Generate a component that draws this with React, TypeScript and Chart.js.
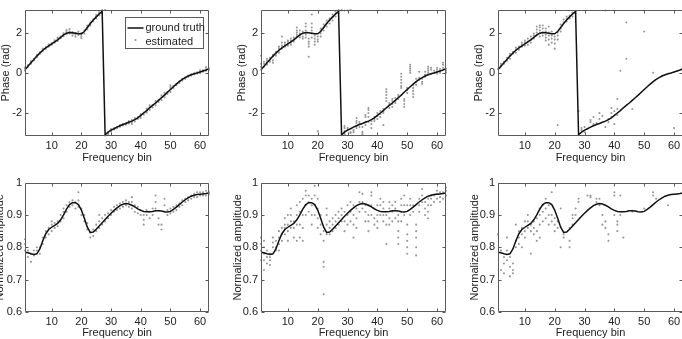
import React, { useEffect, useRef } from "react";
import { Chart, registerables } from "chart.js";

Chart.register(...registerables);

// ---- data -------------------------------------------------------------

const bins = [
  1, 2, 3, 4, 5, 6, 7, 8, 9, 10, 11, 12, 13, 14, 15, 16, 17, 18, 19, 20, 21,
  22, 23, 24, 25, 26, 27, 28, 29, 30, 31, 32, 33, 34, 35, 36, 37, 38, 39, 40,
  41, 42, 43, 44, 45, 46, 47, 48, 49, 50, 51, 52, 53, 54, 55, 56, 57, 58, 59,
  60, 61, 62, 63,
];

const binTicks = [10, 20, 30, 40, 50, 60];
const phaseTicks = [-2, 0, 2];
const ampTicks = [0.6, 0.7, 0.8, 0.9, 1];

// Reference phase response (wrapped to [-pi, pi])
const truePhase = [
  0.15, 0.33, 0.5, 0.66, 0.83, 0.98, 1.12, 1.24, 1.34, 1.44, 1.54, 1.64, 1.76,
  1.88, 1.97, 2.0, 1.99, 1.97, 1.94, 1.94, 2.05, 2.25, 2.45, 2.62, 2.78, 2.92,
  3.05, -3.08, -2.95, -2.85, -2.78, -2.7, -2.63, -2.57, -2.52, -2.46, -2.4,
  -2.33, -2.24, -2.12, -2.0, -1.88, -1.74, -1.62, -1.5, -1.37, -1.24, -1.11,
  -0.97, -0.83, -0.69, -0.56, -0.44, -0.33, -0.24, -0.16, -0.1, -0.05, -0.01,
  0.04, 0.09, 0.14, 0.2,
];

// Reference normalized amplitude response
const trueAmp = [
  0.785, 0.783, 0.78, 0.778, 0.78, 0.795, 0.82, 0.842, 0.855, 0.862, 0.868,
  0.874, 0.885, 0.9, 0.918, 0.932, 0.938, 0.938, 0.932, 0.915, 0.89, 0.862,
  0.846, 0.847, 0.856, 0.866, 0.876, 0.886, 0.896, 0.905, 0.914, 0.922, 0.929,
  0.933, 0.935, 0.934, 0.93, 0.925, 0.919, 0.914, 0.911, 0.91, 0.91, 0.911,
  0.913, 0.913, 0.912, 0.91, 0.909, 0.911, 0.917, 0.924, 0.932, 0.94, 0.947,
  0.953, 0.958, 0.961, 0.963, 0.964, 0.965, 0.966, 0.968,
];

// Estimates, one list per frequency bin (bin 1 first)
const estPhaseA: number[][] = [
  [0.12, 0.2, 0.26], [0.3, 0.38], [0.45, 0.52, 0.58], [0.62, 0.7],
  [0.78, 0.85, 0.9], [0.95, 1.02], [1.08, 1.15, 1.2], [1.2, 1.28],
  [1.3, 1.38, 1.42], [1.4, 1.48], [1.5, 1.56, 1.62], [1.58, 1.68, 1.75],
  [1.72, 1.8], [1.82, 1.9, 1.96], [1.92, 2.02, 2.12], [1.95, 2.05, 2.18],
  [1.85, 1.95, 2.02], [1.8, 1.9, 1.98], [1.88, 1.96, 2.05],
  [1.72, 1.8, 1.9, 1.98], [1.95, 2.1], [2.15, 2.25, 2.35], [2.35, 2.42, 2.5],
  [2.55, 2.65], [2.7, 2.8, 2.88], [2.85, 2.95, 3.02], [2.98, 3.08, 3.12],
  [-3.12, 3.12], [-3.05, -2.98], [-2.92, -2.85, -2.8], [-2.82, -2.75],
  [-2.75, -2.68], [-2.68, -2.6], [-2.62, -2.55], [-2.58, -2.5],
  [-2.52, -2.45, -2.4], [-2.55, -2.45, -2.35], [-2.42, -2.32, -2.25],
  [-2.3, -2.2], [-2.25, -2.15, -2.05], [-2.08, -1.98], [-1.98, -1.88, -1.78],
  [-1.85, -1.72, -1.62], [-1.72, -1.6], [-1.62, -1.5, -1.4], [-1.45, -1.35],
  [-1.35, -1.22, -1.12], [-1.22, -1.1, -1.0], [-1.05, -0.95],
  [-0.95, -0.82, -0.7, -0.62], [-0.75, -0.66], [-0.62, -0.55], [-0.5, -0.42],
  [-0.38, -0.3], [-0.3, -0.22], [-0.2, -0.14], [-0.14, -0.08], [-0.08, -0.02],
  [-0.04, 0.02], [-0.02, 0.06, 0.12], [0.05, 0.12], [0.1, 0.18, 0.28],
  [0.15, 0.22],
];

const estPhaseB: number[][] = [
  [0.15, 0.3, 0.45, 0.85], [0.3, 0.45, 0.55], [0.4, 0.5, 0.6, 0.7],
  [0.55, 0.65, 0.75], [0.5, 0.62, 0.8, 0.9], [0.85, 0.95, 1.05],
  [1.0, 1.1, 1.2, 1.3], [1.2, 1.35, 1.5, 1.8], [1.3, 1.4, 1.5],
  [1.35, 1.45, 1.55, 1.6], [1.4, 1.5, 1.6, 1.7], [1.55, 1.65, 1.75],
  [1.8, 1.9, 2.0, 2.1, 2.25], [1.75, 1.85, 1.95, 2.1], [1.7, 1.8, 1.95, 2.05],
  [1.75, 1.9, 2.1, 2.3, 2.45], [0.8, 1.3, 1.45, 1.55, 1.7],
  [1.75, 1.95, 2.1, 2.25, 2.45, 2.9], [1.4, 1.55, 1.7, 1.85],
  [-2.9, 1.55, 1.65, 1.8], [1.8, 1.95, 2.1, 2.2], [2.1, 2.25, 2.4],
  [2.3, 2.45, 2.6], [2.45, 2.6, 2.7], [2.6, 2.75, 2.9], [2.8, 2.95, 3.05],
  [2.95, 3.05, 3.12], [3.1, 3.12, -3.1], [3.1, -3.05, -2.9, -2.75, -2.65],
  [3.1, -2.85, -2.75], [3.12, -2.95, -3.0], [-2.95, -2.85],
  [-2.75, -2.65, -2.5, -2.4, -2.25], [-2.7, -2.55, -2.45], [-3.05, -2.95, -2.7],
  [-2.6, -2.45, -2.2, -2.1], [-2.45, -2.2, -2.0, -1.85, -1.75],
  [-2.75, -2.55, -2.4], [-2.4, -2.3, -2.2], [-2.3, -2.15, -2.0],
  [-2.2, -2.05, -1.9], [-2.6, -2.0, -1.9, -1.8],
  [-0.82, -0.95, -1.1, -1.25, -1.4], [-1.75, -1.6, -1.5],
  [-1.7, -1.55, -1.4, -1.3], [-1.5, -1.4, -1.25], [-1.3, -1.2, -1.1],
  [-0.05, -0.2, -0.35, -0.5, -0.65, -0.75], [-1.7, -1.55, -1.4, -1.3],
  [-1.0, -0.85, -0.75], [0.4, 0.3, 0.2, 0.1, 0.0],
  [-0.6, -0.75, -0.9, -1.05, -1.2], [-0.6, -0.45, -0.3], [-0.35, -0.25, 0.05],
  [-0.55, -0.45, -0.3], [-0.2, -0.1, 0.05], [0.3, 0.2, 0.1, 0.0],
  [0.25, 0.15, -0.05], [0.0, 0.1], [0.25, 0.15, 0.05, -0.05], [0.2, 0.1, 0.0],
  [0.5, 0.4, 0.25], [0.2, 0.1, 0.0],
];

const estPhaseC: number[][] = [
  [0.2], [0.35, 0.45], [0.45, 0.55], [0.6, 0.75], [0.7, 0.85, 0.95],
  [0.95, 1.05], [1.0, 1.15, 1.25], [1.15, 1.3], [1.3, 1.4, 1.5],
  [1.35, 1.5, 1.6], [1.4, 1.55, 1.7], [1.5, 1.65, 1.8], [1.7, 1.85, 1.95],
  [1.85, 2.0, 2.15, 2.3], [1.8, 1.95, 2.1, 2.25, 2.35], [1.85, 2.0, 2.2, 2.35],
  [1.6, 1.75, 1.9, 2.05, 2.2], [1.4, 1.65, 1.85, 2.0, 2.3],
  [1.5, 1.7, 1.85, 2.05], [1.2, 1.45, 1.65, 1.8], [-2.6, 1.65, 1.85, 2.0],
  [2.05, 2.2, 2.4], [2.5, 2.65], [2.55, 2.7, 2.8], [2.7, 2.85],
  [2.8, 2.95, 3.0], [2.95, 3.05], [-1.9], [-2.75, -2.85], [-2.7, -2.95], [],
  [-2.35, -2.45], [-2.2, -2.55], [-2.5], [-2.0, -2.3], [-2.15], [3.1, -2.7],
  [-2.3, -2.45], [-1.75, -2.0, -2.2], [-2.55, -1.9], [-1.3, -2.1, -1.8],
  [0.1], [], [2.5, 0.7], [], [-1.8], [], [], [], [2.05], [], [], [0.0], [], [],
  [-0.15], [], [], [], [-2.75], [], [], [2.05, -1.9, 0.0],
];

const estAmpA: number[][] = [
  [0.79, 0.81, 0.825], [0.77, 0.79], [0.755, 0.78], [0.775, 0.79],
  [0.79, 0.8], [0.78, 0.8], [0.81, 0.83], [0.83, 0.85], [0.84, 0.86],
  [0.85, 0.87, 0.88], [0.86, 0.875], [0.865, 0.88], [0.88, 0.9],
  [0.89, 0.91, 0.92], [0.91, 0.93], [0.925, 0.94], [0.93, 0.945],
  [0.92, 0.94], [0.925, 0.945, 0.97], [0.9, 0.92], [0.88, 0.9],
  [0.855, 0.875], [0.83, 0.845], [0.835, 0.855], [0.85, 0.87],
  [0.86, 0.88, 0.9], [0.87, 0.89], [0.88, 0.9], [0.89, 0.905], [0.9, 0.915],
  [0.91, 0.925], [0.915, 0.93], [0.92, 0.935], [0.925, 0.94], [0.93, 0.945],
  [0.925, 0.94], [0.92, 0.94, 0.955], [0.91, 0.93], [0.905, 0.925],
  [0.9, 0.915], [0.87, 0.885, 0.9], [0.9, 0.915], [0.89, 0.91], [0.9, 0.92],
  [0.92, 0.94, 0.96], [0.87, 0.89], [0.855, 0.87], [0.91, 0.93, 0.95],
  [0.9, 0.915], [0.905, 0.92], [0.91, 0.925], [0.915, 0.93], [0.925, 0.935],
  [0.93, 0.945], [0.94, 0.95], [0.945, 0.955], [0.95, 0.96], [0.955, 0.965],
  [0.955, 0.97], [0.96, 0.97], [0.96, 0.97], [0.96, 0.975], [0.965, 0.97],
];

const estAmpB: number[][] = [
  [0.76, 0.79, 0.81, 0.83], [0.73, 0.76, 0.78, 0.8, 0.82], [0.75, 0.77, 0.79],
  [0.745, 0.76, 0.77, 0.78], [0.8, 0.815, 0.83], [0.79, 0.8, 0.82],
  [0.79, 0.81, 0.83, 0.85], [0.82, 0.84, 0.86], [0.84, 0.86, 0.87, 0.89],
  [0.82, 0.85, 0.87, 0.9], [0.86, 0.88, 0.9, 0.92], [0.83, 0.86, 0.88],
  [0.82, 0.87, 0.9, 0.93], [0.83, 0.87, 0.91, 0.94], [0.82, 0.86, 0.9, 0.95],
  [0.9, 0.93, 0.96, 0.975], [0.91, 0.94, 0.96], [0.87, 0.9, 0.93, 0.95],
  [0.9, 0.93, 0.96, 0.99], [0.86, 0.89, 0.92, 0.95], [0.84, 0.87, 0.9],
  [0.655, 0.74, 0.755, 0.82, 0.85], [0.84, 0.87, 0.9, 0.92], [0.84, 0.86, 0.88],
  [0.85, 0.87, 0.89], [0.86, 0.88, 0.9], [0.87, 0.89, 0.91], [0.88, 0.9, 0.92],
  [0.85, 0.88, 0.91], [0.87, 0.9, 0.93], [0.88, 0.91, 0.94],
  [0.83, 0.87, 0.9, 0.93], [0.86, 0.89, 0.92], [0.91, 0.94, 0.97],
  [0.92, 0.94, 0.965], [0.88, 0.91, 0.93], [0.85, 0.88, 0.9, 0.93],
  [0.9, 0.93, 0.96, 0.97], [0.87, 0.89, 0.92], [0.86, 0.88, 0.9, 0.93],
  [0.9, 0.93, 0.95], [0.88, 0.9, 0.92, 0.94], [0.81, 0.87, 0.9],
  [0.87, 0.89, 0.92, 0.94], [0.88, 0.91, 0.93], [0.89, 0.92, 0.94],
  [0.81, 0.83, 0.85, 0.88, 0.9], [0.88, 0.91, 0.93, 0.95], [0.9, 0.93, 0.96],
  [0.78, 0.8, 0.82, 0.84, 0.87, 0.93], [0.9, 0.93, 0.95], [0.91, 0.93],
  [0.775, 0.8, 0.83, 0.85, 0.87], [0.91, 0.93, 0.95], [0.94, 0.96, 0.98],
  [0.9, 0.92, 0.94], [0.89, 0.91, 0.93, 0.95], [0.93, 0.95, 0.96],
  [0.94, 0.96], [0.95, 0.965, 0.975], [0.94, 0.955, 0.97], [0.95, 0.97],
  [0.96, 0.975, 0.985],
];

const estAmpC: number[][] = [
  [0.84], [0.73, 0.79], [0.72, 0.75, 0.77], [0.76, 0.79, 0.83],
  [0.71, 0.74, 0.77], [0.72, 0.73, 0.75], [0.8, 0.82, 0.87], [0.81, 0.83, 0.85],
  [0.8, 0.84, 0.86], [0.83, 0.85, 0.88], [0.86, 0.88, 0.9], [0.78, 0.85, 0.87],
  [0.84, 0.86, 0.88], [0.82, 0.85, 0.89], [0.83, 0.87, 0.9, 0.92],
  [0.88, 0.91, 0.93], [0.89, 0.92, 0.95], [0.87, 0.9, 0.93], [0.88, 0.9, 0.97],
  [0.85, 0.87, 0.89], [0.86, 0.88], [0.8, 0.92], [0.83, 0.84], [],
  [0.8, 0.82, 0.86], [0.87, 0.89, 0.9], [0.9, 0.92], [0.94, 0.95], [], [],
  [0.96], [0.955, 0.96], [], [0.94, 0.95], [0.93, 0.95], [0.87, 0.9],
  [0.86, 0.88], [0.82, 0.84], [], [0.9, 0.96, 0.97], [0.85, 0.87, 0.88],
  [0.9, 0.96], [0.83], [], [], [0.91], [], [], [], [0.92], [], [], [0.96, 0.97],
  [0.95], [], [], [], [0.93], [], [], [], [], [],
];

// ---- panel definitions ------------------------------------------------

type PanelSpec = {
  truth: number[];
  est: number[][];
  yTitle: string;
  yMin: number;
  yMax: number;
  yTicks: number[];
  legend?: boolean;
};

const panelSpecs: PanelSpec[] = [
  { truth: truePhase, est: estPhaseA, yTitle: "Phase (rad)", yMin: -Math.PI, yMax: Math.PI, yTicks: phaseTicks, legend: true },
  { truth: truePhase, est: estPhaseB, yTitle: "Phase (rad)", yMin: -Math.PI, yMax: Math.PI, yTicks: phaseTicks },
  { truth: truePhase, est: estPhaseC, yTitle: "Phase (rad)", yMin: -Math.PI, yMax: Math.PI, yTicks: phaseTicks },
  { truth: trueAmp, est: estAmpA, yTitle: "Normalized amplitude", yMin: 0.6, yMax: 1, yTicks: ampTicks },
  { truth: trueAmp, est: estAmpB, yTitle: "Normalized amplitude", yMin: 0.6, yMax: 1, yTicks: ampTicks },
  { truth: trueAmp, est: estAmpC, yTitle: "Normalized amplitude", yMin: 0.6, yMax: 1, yTicks: ampTicks },
];

// Plot-area rectangles on the page, plus title offsets
const frames = [
  { left: 25, top: 5, right: 209, bottom: 136, padTop: 5, yTitleGap: 19, xTitleGap: 22 },
  { left: 261, top: 5, right: 446, bottom: 136, padTop: 5, yTitleGap: 19, xTitleGap: 22 },
  { left: 498, top: 5, right: 683, bottom: 136, padTop: 5, yTitleGap: 19, xTitleGap: 22 },
  { left: 25, top: 181, right: 209, bottom: 312, padTop: 8, yTitleGap: 25, xTitleGap: 21 },
  { left: 261, top: 181, right: 446, bottom: 312, padTop: 8, yTitleGap: 23, xTitleGap: 21 },
  { left: 498, top: 181, right: 683, bottom: 312, padTop: 8, yTitleGap: 23, xTitleGap: 21 },
];

const FONT_FAMILY = 'Arial, "Liberation Sans", Helvetica, sans-serif';
const FONT_SIZE = 11;
const LINE_H = FONT_SIZE * 1.2;
const TEXT_COLOR = "#222";
const AXIS_COLOR = "#5a5a5a";
const LINE_COLOR = "#111";
const DOT_COLOR = "#999999";
const TICK_LEN = 3;
const PAD_RIGHT = 6;

// Box around the plot area with inward ticks on all four sides
const axesBox = {
  id: "axesBox",
  afterDraw(chart: any) {
    const { ctx, chartArea: a, scales } = chart;
    const L = Math.round(a.left) + 0.5;
    const R = Math.round(a.right) - 0.5;
    const T = Math.round(a.top) + 0.5;
    const B = Math.round(a.bottom) - 0.5;
    ctx.save();
    ctx.strokeStyle = AXIS_COLOR;
    ctx.lineWidth = 1;
    ctx.beginPath();
    ctx.rect(L, T, R - L, B - T);
    for (const t of scales.x.ticks) {
      const px = Math.round(scales.x.getPixelForValue(t.value)) + 0.5;
      ctx.moveTo(px, B);
      ctx.lineTo(px, B - TICK_LEN);
      ctx.moveTo(px, T);
      ctx.lineTo(px, T + TICK_LEN);
    }
    for (const t of scales.y.ticks) {
      const py = Math.round(scales.y.getPixelForValue(t.value)) + 0.5;
      ctx.moveTo(L, py);
      ctx.lineTo(L + TICK_LEN, py);
      ctx.moveTo(R, py);
      ctx.lineTo(R - TICK_LEN, py);
    }
    ctx.stroke();
    ctx.restore();
  },
};

// Boxed legend in the upper-right corner of the plot area
const cornerLegend = {
  id: "cornerLegend",
  afterDraw(chart: any, _args: any, opts: any) {
    if (!opts || !opts.show) return;
    const { ctx, chartArea: a } = chart;
    const sets = chart.data.datasets;
    const line = sets.find((d: any) => d.type === "line");
    const dots = sets.find((d: any) => d.type === "scatter");
    const bx = Math.round(a.right - 84) + 0.5;
    const by = Math.round(a.top + 7) + 0.5;
    const bw = 78;
    const bh = 31;
    ctx.save();
    ctx.fillStyle = "#fff";
    ctx.fillRect(bx, by, bw, bh);
    ctx.strokeStyle = AXIS_COLOR;
    ctx.lineWidth = 1;
    ctx.strokeRect(bx, by, bw, bh);

    ctx.strokeStyle = line.borderColor;
    ctx.lineWidth = line.borderWidth;
    ctx.beginPath();
    ctx.moveTo(bx + 2, by + 10.5);
    ctx.lineTo(bx + 18, by + 10.5);
    ctx.stroke();

    ctx.fillStyle = dots.backgroundColor;
    ctx.beginPath();
    ctx.arc(bx + 10, by + 22.5, 1.1, 0, Math.PI * 2);
    ctx.fill();

    ctx.fillStyle = TEXT_COLOR;
    ctx.font = `${FONT_SIZE}px ${FONT_FAMILY}`;
    ctx.textBaseline = "middle";
    ctx.textAlign = "left";
    ctx.fillText(line.label, bx + 20, by + 10.5);
    ctx.fillText(dots.label, bx + 20, by + 24.5);
    ctx.restore();
  },
};

function Panel({ spec, frame }: { spec: PanelSpec; frame: (typeof frames)[number] }) {
  const ref = useRef<HTMLCanvasElement>(null);

  const yTitleX = frame.left - frame.yTitleGap;
  const canvasLeft = Math.floor(yTitleX - LINE_H / 2);
  const yTitlePad = yTitleX - canvasLeft - LINE_H / 2;
  const yWidth = frame.left - canvasLeft;
  const xHeight = 30;
  const xTitlePad = xHeight - frame.xTitleGap - LINE_H / 2;
  const canvasTop = frame.top - frame.padTop;
  const width = frame.right - canvasLeft + PAD_RIGHT;
  const height = frame.padTop + (frame.bottom - frame.top) + xHeight;

  useEffect(() => {
    const font = { family: FONT_FAMILY, size: FONT_SIZE, lineHeight: 1.2 };
    const points: { x: number; y: number }[] = [];
    spec.est.forEach((vals, i) => {
      vals.forEach((v) => points.push({ x: bins[i], y: v }));
    });
    const chart = new Chart(ref.current as HTMLCanvasElement, {
      type: "scatter",
      data: {
        datasets: [
          {
            type: "line",
            label: "ground truth",
            data: bins.map((b, i) => ({ x: b, y: spec.truth[i] })),
            borderColor: LINE_COLOR,
            borderWidth: 1.5,
            pointRadius: 0,
            tension: 0,
            fill: false,
            order: 0,
          } as any,
          {
            type: "scatter",
            label: "estimated",
            data: points,
            backgroundColor: DOT_COLOR,
            borderWidth: 0,
            pointRadius: 1.05,
            clip: 2,
            order: 1,
          } as any,
        ],
      },
      options: {
        animation: false,
        responsive: false,
        maintainAspectRatio: false,
        devicePixelRatio: 1,
        events: [],
        layout: { padding: { top: frame.padTop, right: PAD_RIGHT, left: 0, bottom: 0 } },
        plugins: {
          legend: { display: false },
          tooltip: { enabled: false },
          cornerLegend: { show: !!spec.legend },
        } as any,
        scales: {
          x: {
            type: "linear",
            min: 1,
            max: 63,
            grid: { display: false, drawTicks: false },
            border: { display: false },
            afterBuildTicks: (s: any) => {
              s.ticks = binTicks.map((v) => ({ value: v }));
            },
            afterFit: (s: any) => {
              s.height = xHeight;
            },
            ticks: {
              font,
              color: TEXT_COLOR,
              padding: 3.4,
              maxRotation: 0,
              autoSkip: false,
              callback: (v: any) => String(v),
            },
            title: {
              display: true,
              text: "Frequency bin",
              font,
              color: TEXT_COLOR,
              padding: { top: 0, bottom: xTitlePad },
            },
          },
          y: {
            type: "linear",
            min: spec.yMin,
            max: spec.yMax,
            grid: { display: false, drawTicks: false },
            border: { display: false },
            afterBuildTicks: (s: any) => {
              s.ticks = spec.yTicks.map((v) => ({ value: v }));
            },
            afterFit: (s: any) => {
              s.width = yWidth;
            },
            ticks: {
              font,
              color: TEXT_COLOR,
              padding: 3,
              autoSkip: false,
              callback: (v: any) => String(v),
            },
            title: {
              display: true,
              text: spec.yTitle,
              font,
              color: TEXT_COLOR,
              padding: { top: yTitlePad, bottom: 0 },
            },
          },
        },
      } as any,
      plugins: [axesBox, cornerLegend],
    });
    return () => chart.destroy();
  }, []);

  return (
    <canvas
      ref={ref}
      width={width}
      height={height}
      style={{ position: "absolute", left: canvasLeft, top: canvasTop, width, height }}
    />
  );
}

export default function App() {
  return (
    <div
      style={{
        position: "absolute",
        left: 0,
        top: 0,
        width: 682,
        height: 339,
        overflow: "hidden",
        background: "#fff",
      }}
    >
      {panelSpecs.map((spec, i) => (
        <Panel key={i} spec={spec} frame={frames[i]} />
      ))}
    </div>
  );
}
